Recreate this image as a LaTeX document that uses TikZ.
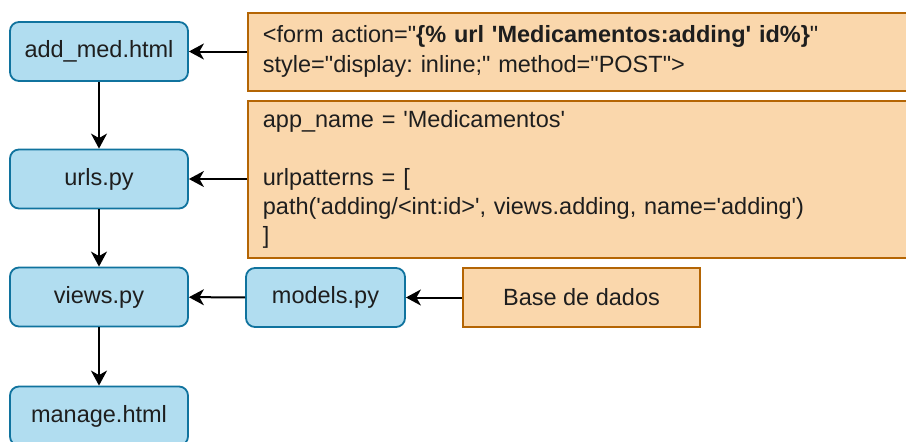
\documentclass[tikz,border=0pt]{standalone}
\usepackage{fontspec}
\usetikzlibrary{arrows.meta}
\newfontfamily\arialf{Liberation Sans}
\frenchspacing
\definecolor{bluefill}{HTML}{B1DDF0}
\definecolor{bluestroke}{HTML}{10739E}
\definecolor{orangefill}{HTML}{FAD7AC}
\definecolor{orangestroke}{HTML}{B46504}
\definecolor{txt}{HTML}{1E1E1E}
\tikzset{
  filebox/.style={draw=bluestroke, fill=bluefill, line width=1.8pt,
    rounded corners=9pt, minimum width=178pt, minimum height=59pt,
    inner sep=0pt, font=\arialf\fontsize{23.5}{29}\selectfont, text=txt},
  codebox/.style={draw=orangestroke, fill=orangefill, line width=1.8pt,
    inner xsep=15pt, inner ysep=0pt, align=left,
    font=\arialf\fontsize{23.5}{30}\selectfont, text=txt},
  flow/.style={line width=2pt, -{Stealth[length=15pt,width=16pt,inset=4.5pt]}}
}
\begin{document}
\begin{tikzpicture}[x=1pt,y=-1pt]
\useasboundingbox (0,0) rectangle (906,442);
\fill[white] (0,0) rectangle (906,442);

% file chain on the left
\node[filebox] (add)    at (99,51.5) {add\_med.html};
\node[filebox] (urls)   at (99,179)  {urls.py};
\node[filebox] (views)  at (99,297)  {views.py};
\node[filebox] (manage) at (99,416)  {manage.html};
\node[filebox, minimum width=159pt] (models) at (325.5,297.5) {models.py};

% code snippets and data source
\node[codebox, text width=643pt, minimum height=78pt, anchor=north west] (form) at (247,12)
  {<form action="\textbf{\{\% url 'Medicamentos:adding' id\%\}}"\\
   style="display: inline;" method="POST">};
\node[codebox, text width=643pt, minimum height=157pt, anchor=north west] (patterns) at (247,100)
  {\fontsize{23.5}{29}\selectfont
   app\_name = 'Medicamentos'\\[29pt]
   urlpatterns = [\\
   path('adding/<int:id>', views.adding, name='adding')\\
   ]\\[-4pt]};
\node[codebox, align=center, inner xsep=0pt, minimum width=237pt, minimum height=59pt] (db) at (581.5,297.5) {Base de dados};

% connectors
\draw[flow] (form.west |- add.east) -- (add.east);
\draw[flow] (patterns.west |- urls.east) -- (urls.east);
\draw[flow] (add) -- (urls);
\draw[flow] (urls) -- (views);
\draw[flow] (views) -- (manage);
\draw[flow] (models) -- (views);
\draw[flow] (db) -- (models);
\end{tikzpicture}
\end{document}
